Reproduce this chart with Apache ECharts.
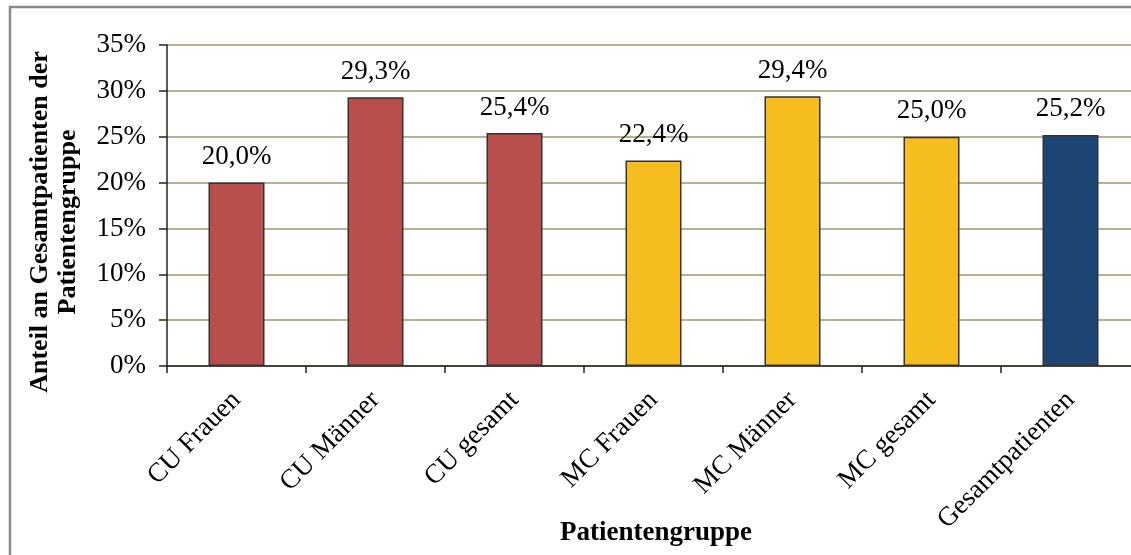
<!DOCTYPE html>
<html>
<head>
<meta charset="utf-8">
<script src="https://cdn.jsdelivr.net/npm/echarts@6/dist/echarts.min.js"></script>
<style>
  html, body { margin: 0; padding: 0; background: #fff; }
  #chart { width: 1131px; height: 555px; }
</style>
</head>
<body>
<div id="chart"></div>
<script>
// Patient groups and their share (percent) of all patients in the group
const categories = ['CU Frauen', 'CU Männer', 'CU gesamt', 'MC Frauen', 'MC Männer', 'MC gesamt', 'Gesamtpatienten'];
const shares = [20.0, 29.3, 25.4, 22.4, 29.4, 25.0, 25.2];
const yTicks = { min: 0, max: 35, step: 5 };

// Fill colour per group: CU red, MC yellow, total blue
const barColors = ['#B94F4C', '#B94F4C', '#B94F4C', '#F6BD1F', '#F6BD1F', '#F6BD1F', '#1D4675'];

const FONT = '"Liberation Serif", "Times New Roman", serif';
const fmt = v => v.toFixed(1).replace('.', ',') + '%';

const chart = echarts.init(document.getElementById('chart'), null, { renderer: 'canvas' });

chart.setOption({
  animation: false,
  backgroundColor: '#fff',
  // plot runs slightly past the right edge of the canvas
  grid: {
    left: 167, top: 45, width: 973, bottom: 189,
    containLabel: false, outerBoundsMode: 'none'
  },
  xAxis: {
    type: 'category',
    data: categories,
    boundaryGap: true,
    axisLine: { show: true, lineStyle: { color: '#222', width: 1.5 } },
    axisTick: { show: true, length: 7, alignWithLabel: false, lineStyle: { color: '#222', width: 1.5 } },
    axisLabel: {
      interval: 0, rotate: 45, margin: 30,
      fontFamily: FONT, fontSize: 27, color: '#000'
    },
    splitLine: { show: false }
  },
  yAxis: {
    type: 'value',
    min: yTicks.min, max: yTicks.max, interval: yTicks.step,
    axisLine: { show: true, lineStyle: { color: '#222', width: 1.5 } },
    axisTick: { show: true, length: 8, lineStyle: { color: '#222', width: 1.5 } },
    axisLabel: {
      margin: 21, formatter: '{value}%',
      fontFamily: FONT, fontSize: 27, color: '#000'
    },
    splitLine: { show: true, lineStyle: { color: '#9E976A', width: 1.5 } }
  },
  series: [{
    type: 'bar',
    barWidth: 56,
    data: shares.map((v, i) => ({
      value: v,
      itemStyle: { color: barColors[i], borderColor: '#333', borderWidth: 1.5 }
    })),
    label: {
      show: true, position: 'top', distance: 12,
      formatter: p => fmt(p.value),
      fontFamily: FONT, fontSize: 27, color: '#000'
    }
  }],
  graphic: [
    {
      type: 'rect', silent: true,
      shape: { x: 10, y: 7, width: 1200, height: 600 },
      style: { fill: null, stroke: '#8A8A8A', lineWidth: 2.5 }
    },
    {
      type: 'text', silent: true,
      x: 54, y: 222, rotation: Math.PI / 2,
      style: {
        text: 'Anteil an Gesamtpatienten der\nPatientengruppe',
        font: 'bold 26px ' + FONT, fill: '#000',
        textAlign: 'center', textVerticalAlign: 'middle', lineHeight: 28
      }
    },
    {
      type: 'text', silent: true,
      x: 656, y: 533,
      style: {
        text: 'Patientengruppe',
        font: 'bold 27px ' + FONT, fill: '#000',
        textAlign: 'center', textVerticalAlign: 'middle'
      }
    }
  ]
});
</script>
</body>
</html>
